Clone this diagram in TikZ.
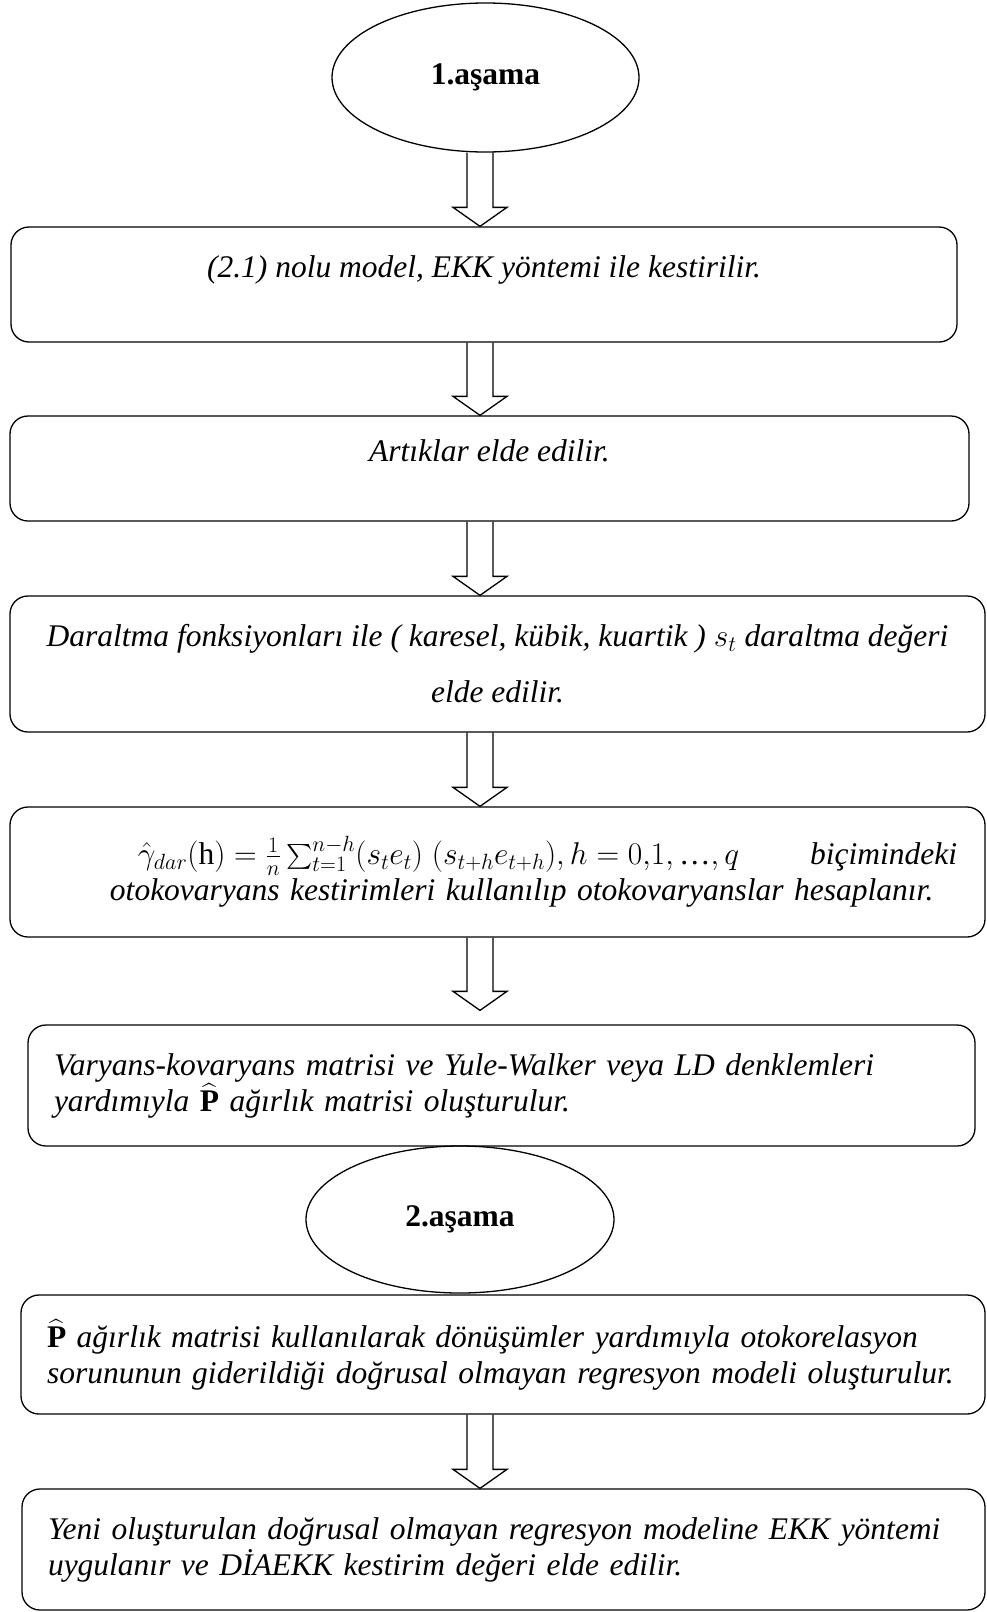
\documentclass[tikz,border=0pt]{standalone}
\usepackage{fix-cm}
\usepackage{amsmath}
\usepackage{fontspec}
\setmainfont{Liberation Serif}
\usetikzlibrary{shapes.geometric, calc}

\begin{document}
\fontsize{31.5}{36}\selectfont
\begin{tikzpicture}[x=1pt, y=-1pt, line width=1.3pt,
    stage/.style={ellipse, draw, inner sep=0pt, font=\bfseries},
    procbox/.style={draw, rectangle, rounded corners=18pt, inner sep=0pt, font=\itshape},
    leftbox/.style={procbox, inner xsep=26pt, align=left},
    fat/.style={line join=miter}]
    \useasboundingbox (0,0) rectangle (987,1612);
    \coordinate (spine) at (480,0);

    % 1. asama
    \node[stage, minimum width=307pt, minimum height=149pt] (1) at (485.5,77.5) {1.aşama};
    \node[procbox, minimum width=946pt, minimum height=115pt, align=center] (2) at (484,284.5)
        {(2.1) nolu model, EKK yöntemi ile kestirilir.\\\mbox{}};
    \node[procbox, minimum width=959pt, minimum height=105pt, align=center] (3) at (489.5,468.5)
        {Artıklar elde edilir.\\\mbox{}};
    \node[procbox, minimum width=975pt, minimum height=136pt, align=center] (4) at (497.5,664)
        {Daraltma fonksiyonları ile ( karesel, kübik, kuartik ) $s_t$ daraltma değeri\\[20pt]elde edilir.};
    \node[procbox, inner xsep=13pt, text width=949pt, minimum height=130pt, align=left] (5) at (497.5,872)
        {\hspace*{115pt}\makebox[819pt]{$\hat{\gamma}_{dar}(\mathrm{h})=\frac{1}{n}\sum_{t=1}^{n-h}(s_te_t)\;(s_{t+h}e_{t+h}),h=0{,}1,\mbox{\upshape …},q$\hfill\textit{biçimindeki}}\\
         \hspace*{87pt}otokovaryans kestirimleri kullanılıp otokovaryanslar hesaplanır.};
    \node[leftbox, text width=895pt, minimum height=121pt] (6) at (501.5,1085.5)
        {Varyans-kovaryans matrisi ve Yule-Walker veya LD denklemleri\\
         yardımıyla $\widehat{\mbox{\bfseries\upshape P}}$ ağırlık matrisi oluşturulur.};

    % 2. asama
    \node[stage, minimum width=308pt, minimum height=147pt] (7) at (460,1219.5) {2.aşama};
    \node[leftbox, text width=912pt, minimum height=119pt] (8) at (503,1354.5)
        {$\widehat{\mbox{\bfseries\upshape P}}$ ağırlık matrisi kullanılarak dönüşümler yardımıyla otokorelasyon\\
         sorununun giderildiği doğrusal olmayan regresyon modeli oluşturulur.};
    \node[leftbox, text width=911pt, minimum height=121pt] (9) at (503.5,1549.5)
        {Yeni oluşturulan doğrusal olmayan regresyon modeline EKK yöntemi\\
         uygulanır ve DİAEKK kestirim değeri elde edilir.};

    % hollow arrows
    \foreach \a/\b/\g in {1/2/0, 2/3/0, 3/4/0, 4/5/0, 5/6/14, 8/9/0}
        \draw[fat] ($(\a.south -| spine)+(-13,0)$) -- ($(\b.north -| spine)+(-13,-19-\g)$)
            -- ++(-14,0) -- ($(\b.north -| spine)+(0,-\g)$) -- ($(\b.north -| spine)+(27,-19-\g)$)
            -- ++(-14,0) -- ($(\a.south -| spine)+(13,0)$);
\end{tikzpicture}
\end{document}
